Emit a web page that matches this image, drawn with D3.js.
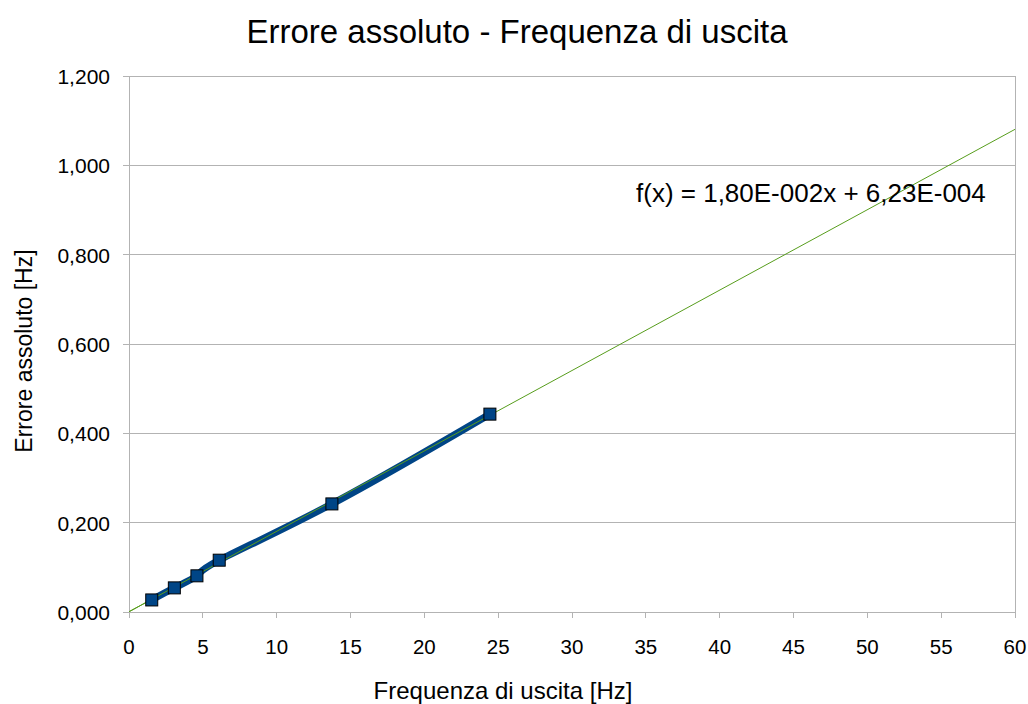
<!DOCTYPE html>
<html>
<head>
<meta charset="utf-8">
<script src="https://cdn.jsdelivr.net/npm/d3@7"></script>
<style>
  body { margin: 0; background: #fff; }
  svg { font-family: "Liberation Sans", Arial, sans-serif; }
</style>
</head>
<body>
<div id="chart"></div>
<script>
// data
var freq = [1.54, 3.07, 4.6, 6.11, 13.74, 24.44];
var errore = [0.027, 0.054, 0.081, 0.116, 0.242, 0.443];
var xTicks = [0, 5, 10, 15, 20, 25, 30, 35, 40, 45, 50, 55, 60];
var yTicks = [0, 0.2, 0.4, 0.6, 0.8, 1.0, 1.2];
var slope = 0.018, intercept = 0.000623;

var w = 1028, h = 704;
var margin = { left: 129, right: 13, top: 76, bottom: 92 };

var svg = d3.select("#chart").append("svg")
    .attr("width", w)
    .attr("height", h);

var x = d3.scaleLinear().domain([0, 60]).range([margin.left, w - margin.right]);
var y = d3.scaleLinear().domain([0, 1.2]).range([h - margin.bottom, margin.top]);

var fmtY = function(d) { return d3.format(".3f")(d).replace(".", ","); };

// grid
svg.append("g").selectAll("line")
    .data(yTicks)
    .enter().append("line")
    .attr("x1", x(0) - 6).attr("x2", x(60))
    .attr("y1", function(d) { return y(d); })
    .attr("y2", function(d) { return y(d); })
    .attr("stroke", "#b3b3b3").attr("stroke-width", 1).attr("shape-rendering", "crispEdges");

// left axis line and right border
svg.append("line").attr("x1", x(0)).attr("x2", x(0)).attr("y1", y(1.2)).attr("y2", y(0) + 6)
    .attr("stroke", "#b3b3b3").attr("shape-rendering", "crispEdges");
svg.append("line").attr("x1", x(60)).attr("x2", x(60)).attr("y1", y(1.2)).attr("y2", y(0) + 6)
    .attr("stroke", "#b3b3b3").attr("shape-rendering", "crispEdges");

// x ticks
svg.append("g").selectAll("line")
    .data(xTicks)
    .enter().append("line")
    .attr("x1", function(d) { return x(d); })
    .attr("x2", function(d) { return x(d); })
    .attr("y1", y(0)).attr("y2", y(0) + 6)
    .attr("stroke", "#b3b3b3").attr("shape-rendering", "crispEdges");

svg.append("g").selectAll("text")
    .data(xTicks)
    .enter().append("text")
    .attr("x", function(d) { return x(d); })
    .attr("y", y(0) + 42)
    .attr("text-anchor", "middle")
    .attr("font-size", "20.5px")
    .text(function(d) { return d; });

svg.append("g").selectAll("text")
    .data(yTicks)
    .enter().append("text")
    .attr("x", x(0) - 19)
    .attr("y", function(d) { return y(d) + 8; })
    .attr("text-anchor", "end")
    .attr("font-size", "21px")
    .text(fmtY);

// trend line
svg.append("line")
    .attr("x1", x(0)).attr("y1", y(intercept))
    .attr("x2", x(60)).attr("y2", y(slope * 60 + intercept))
    .attr("stroke", "#579d1c").attr("stroke-width", 1);

// data line
var pts = freq.map(function(d, i) { return [d, errore[i]]; });
var line = d3.line()
    .x(function(d) { return x(d[0]); })
    .y(function(d) { return y(d[1]); })
    .curve(d3.curveNatural);

svg.append("path")
    .datum(pts)
    .attr("d", line)
    .attr("fill", "none")
    .attr("stroke", "#004586")
    .attr("stroke-width", 7);

// trend over data line (it shows through)
svg.append("line")
    .attr("x1", x(0)).attr("y1", y(intercept))
    .attr("x2", x(freq[freq.length - 1])).attr("y2", y(slope * freq[freq.length - 1] + intercept))
    .attr("stroke", "#579d1c").attr("stroke-width", 1);

svg.append("g").selectAll("rect")
    .data(pts)
    .enter().append("rect")
    .attr("x", function(d) { return x(d[0]) - 6; })
    .attr("y", function(d) { return y(d[1]) - 6; })
    .attr("width", 12).attr("height", 12)
    .attr("fill", "#004586")
    .attr("stroke", "#000").attr("stroke-width", 1);

// texts
svg.append("text")
    .attr("x", 517).attr("y", 43)
    .attr("text-anchor", "middle")
    .attr("font-size", "33px")
    .text("Errore assoluto - Frequenza di uscita");

svg.append("text")
    .attr("x", 503).attr("y", 699)
    .attr("text-anchor", "middle")
    .attr("font-size", "24px")
    .text("Frequenza di uscita [Hz]");

svg.append("text")
    .attr("transform", "translate(32,351) rotate(-90)")
    .attr("text-anchor", "middle")
    .attr("font-size", "23px")
    .text("Errore assoluto [Hz]");

svg.append("text")
    .attr("x", 636).attr("y", 202)
    .attr("font-size", "26px")
    .text("f(x) = 1,80E-002x + 6,23E-004");
</script>
</body>
</html>
